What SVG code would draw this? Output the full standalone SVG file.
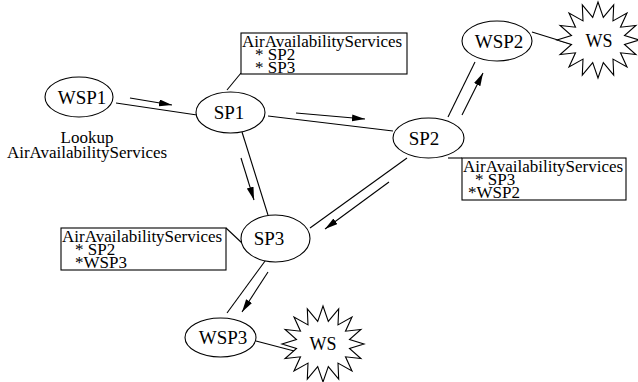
<svg xmlns="http://www.w3.org/2000/svg" xmlns:xlink="http://www.w3.org/1999/xlink" width="638" height="382" viewBox="0 0 638 382">
<style>
  .n { fill: #fff; stroke: #000; stroke-width: 1.1; }
  .nt { font-family: "Liberation Serif", "Times New Roman", serif; font-size: 19px; fill: #000; text-anchor: middle; }
  .bt { font-family: "Liberation Serif", "Times New Roman", serif; font-size: 17px; fill: #000; }
  .wt { font-family: "Liberation Serif", "Times New Roman", serif; font-size: 18px; fill: #000; text-anchor: middle; }
  .box { fill: #fff; stroke: #000; stroke-width: 1.1; }
  .c { stroke: #000; stroke-width: 1.1; fill: none; }
  .a { stroke: #000; stroke-width: 1.1; fill: none; marker-end: url(#ah); }
</style>
<defs>
  <marker id="ah" markerUnits="userSpaceOnUse" markerWidth="14" markerHeight="8" refX="13" refY="3.5" orient="auto">
    <path d="M0,0 L13,3.5 L0,7 z" fill="#000"/>
  </marker>
  <polygon id="star" points="0,-38 5.3,-22.6 15.7,-35.1 15,-19.1 29,-26.9 22.5,-12.8 37.9,-14.5 26.5,-4.5 41,0 26.5,4.5 37.9,14.5 22.5,12.8 29,26.9 15,19.1 15.7,35.1 5.3,22.6 0,38 -5.3,22.6 -15.7,35.1 -15,19.1 -29,26.9 -22.5,12.8 -37.9,14.5 -26.5,4.5 -41,0 -26.5,-4.5 -37.9,-14.5 -22.5,-12.8 -29,-26.9 -15,-19.1 -15.7,-35.1 -5.3,-22.6" fill="#fff" stroke="#000" stroke-width="1.1" stroke-linejoin="miter"/>
</defs>
<rect width="638" height="382" fill="#fff"/>

<g id="connectors">
  <line class="c" x1="116" y1="103" x2="197" y2="115"/>
  <line class="c" x1="268" y1="116" x2="393" y2="131"/>
  <line class="c" x1="242" y1="132" x2="268" y2="215"/>
  <line class="c" x1="407" y1="158" x2="310" y2="228"/>
  <line class="c" x1="448" y1="117" x2="475" y2="62"/>
  <line class="c" x1="532" y1="32" x2="574" y2="45"/>
  <line class="c" x1="268" y1="257" x2="227" y2="313"/>
  <line class="c" x1="256" y1="341" x2="298" y2="352"/>
  <line class="c" x1="241" y1="73" x2="227" y2="90"/>
  <line class="c" x1="448" y1="158" x2="462" y2="158"/>
  <line class="c" x1="226" y1="228" x2="242" y2="243"/>
  <line class="a" x1="130" y1="98" x2="172" y2="105"/>
  <line class="a" x1="296" y1="113" x2="365" y2="119"/>
  <line class="a" x1="241" y1="158" x2="254" y2="200"/>
  <line class="a" x1="389" y1="182" x2="325" y2="229"/>
  <line class="a" x1="462" y1="115" x2="483" y2="73"/>
  <line class="a" x1="268" y1="272" x2="242" y2="312"/>
</g>

<g id="WSP1">
  <ellipse class="n" cx="79" cy="97" rx="34" ry="20"/>
  <text class="nt" x="82" y="104">WSP1</text>
</g>
<g id="lookup">
  <text class="bt" x="87" y="143" text-anchor="middle">Lookup</text>
  <text class="bt" x="87" y="158" text-anchor="middle">AirAvailabilityServices</text>
</g>
<g id="SP1">
  <ellipse class="n" cx="230.5" cy="112.5" rx="34.5" ry="20.5"/>
  <text class="nt" x="229" y="119">SP1</text>
</g>
<g id="SP1-table">
  <rect class="box" x="241" y="33" width="166" height="41"/>
  <text class="bt" x="242" y="47">AirAvailabilityServices</text>
  <text class="bt" x="255" y="60">* SP2</text>
  <text class="bt" x="255" y="73">* SP3</text>
</g>
<g id="SP2">
  <ellipse class="n" cx="428.5" cy="138" rx="35.5" ry="20"/>
  <text class="nt" x="424" y="145">SP2</text>
</g>
<g id="SP2-table">
  <rect class="box" x="462" y="158" width="164" height="42"/>
  <text class="bt" x="463" y="172">AirAvailabilityServices</text>
  <text class="bt" x="475" y="185">* SP3</text>
  <text class="bt" x="468" y="198">*WSP2</text>
</g>
<g id="WSP2">
  <ellipse class="n" cx="497" cy="41" rx="35" ry="20"/>
  <text class="nt" x="499" y="48">WSP2</text>
</g>
<g id="WS1">
  <use xlink:href="#star" href="#star" x="598" y="40"/>
  <text class="wt" x="599" y="47">WS</text>
</g>
<g id="SP3">
  <ellipse class="n" cx="275.5" cy="238.5" rx="34.5" ry="23.5"/>
  <text class="nt" x="269" y="245">SP3</text>
</g>
<g id="SP3-table">
  <rect class="box" x="61" y="228" width="165" height="42"/>
  <text class="bt" x="62" y="242">AirAvailabilityServices</text>
  <text class="bt" x="75" y="255">* SP2</text>
  <text class="bt" x="75" y="268">*WSP3</text>
</g>
<g id="WSP3">
  <ellipse class="n" cx="220.5" cy="337.5" rx="35.5" ry="19.5"/>
  <text class="nt" x="223" y="344">WSP3</text>
</g>
<g id="WS2">
  <use xlink:href="#star" href="#star" x="323" y="344"/>
  <text class="wt" x="323" y="350">WS</text>
</g>
</svg>
